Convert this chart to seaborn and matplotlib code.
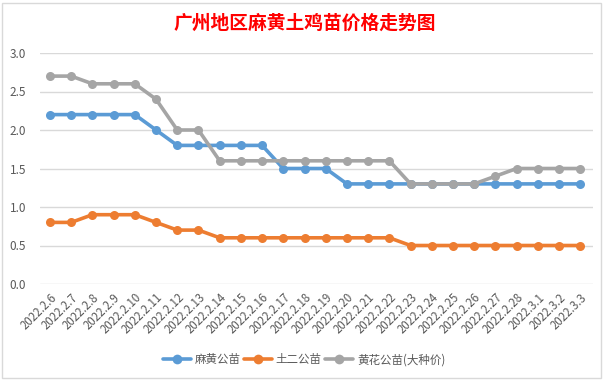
import matplotlib
matplotlib.use("Agg")
import matplotlib.pyplot as plt
import seaborn as sns
import pandas as pd
from matplotlib.patches import Rectangle

# 数据
dates = ['2022.2.6', '2022.2.7', '2022.2.8', '2022.2.9', '2022.2.10', '2022.2.11',
         '2022.2.12', '2022.2.13', '2022.2.14', '2022.2.15', '2022.2.16', '2022.2.17',
         '2022.2.18', '2022.2.19', '2022.2.20', '2022.2.21', '2022.2.22', '2022.2.23',
         '2022.2.24', '2022.2.25', '2022.2.26', '2022.2.27', '2022.2.28', '2022.3.1',
         '2022.3.2', '2022.3.3']
mahuang = [2.2, 2.2, 2.2, 2.2, 2.2, 2.0, 1.8, 1.8, 1.8, 1.8, 1.8, 1.5, 1.5, 1.5,
           1.3, 1.3, 1.3, 1.3, 1.3, 1.3, 1.3, 1.3, 1.3, 1.3, 1.3, 1.3]
tuer = [0.8, 0.8, 0.9, 0.9, 0.9, 0.8, 0.7, 0.7, 0.6, 0.6, 0.6, 0.6, 0.6, 0.6,
        0.6, 0.6, 0.6, 0.5, 0.5, 0.5, 0.5, 0.5, 0.5, 0.5, 0.5, 0.5]
huanghua = [2.7, 2.7, 2.6, 2.6, 2.6, 2.4, 2.0, 2.0, 1.6, 1.6, 1.6, 1.6, 1.6, 1.6,
            1.6, 1.6, 1.6, 1.3, 1.3, 1.3, 1.3, 1.4, 1.5, 1.5, 1.5, 1.5]
series_names = ['麻黄公苗', '土二公苗', '黄花公苗(大种价)']
colors = ['#5B9BD5', '#ED7D31', '#A5A5A5']

df = pd.DataFrame({'日期': dates, '麻黄公苗': mahuang, '土二公苗': tuer,
                   '黄花公苗(大种价)': huanghua})
df['idx'] = range(len(dates))
df_long = df.melt(id_vars=['日期', 'idx'], value_vars=series_names,
                  var_name='品种', value_name='价格')

sns.set_style('white')
plt.rcParams['font.family'] = ['Noto Sans CJK SC', 'DejaVu Sans']

fig = plt.figure(figsize=(6.09, 3.81), dpi=100)
ax = fig.add_axes([40 / 609, 1 - 284 / 381, 553 / 609, 231 / 381])

sns.lineplot(data=df_long, x='idx', y='价格', hue='品种', hue_order=series_names,
             palette=colors, marker='o', markersize=6.5, markeredgewidth=0,
             linewidth=2.6, ax=ax, legend=False)

ax.set_xlim(-0.47, 25.6)
ax.set_ylim(0, 3.0)
yt = [0, 0.5, 1.0, 1.5, 2.0, 2.5, 3.0]
ax.set_yticks(yt)
ax.set_yticklabels([f'{v:.1f}' for v in yt], fontsize=8.5, color='#595959')
ax.set_xticks(df['idx'])
ax.set_xticklabels(dates, rotation=45, ha='right', rotation_mode='anchor',
                   fontsize=8.3, color='#595959')
ax.tick_params(axis='both', length=0, pad=5)
ax.tick_params(axis='y', pad=10)
ax.grid(axis='y', color='#D9D9D9', linewidth=1)
ax.set_xlabel('')
ax.set_ylabel('')
for s in ax.spines.values():
    s.set_visible(False)

fig.text(305 / 609, 1 - 23 / 381, '广州地区麻黄土鸡苗价格走势图', ha='center', va='center',
         color='#FF0000', fontsize=13.5, fontweight='bold')

handles = [plt.Line2D([], [], color=c, marker='o', markersize=7, markeredgewidth=0,
                      linewidth=2.6) for c in colors]
fig.legend(handles, series_names, loc='center', bbox_to_anchor=(304 / 609, 1 - 360 / 381),
           ncol=3, frameon=False, fontsize=8.3, handlelength=2.4, columnspacing=0.3,
           handletextpad=0.35, labelcolor='#595959')

fig.patches.append(Rectangle((2 / 609, 3 / 381), 599 / 609, 375 / 381,
                             transform=fig.transFigure, fill=False,
                             edgecolor='#D9D9D9', linewidth=1))

fig.savefig('out.png', dpi=100)
